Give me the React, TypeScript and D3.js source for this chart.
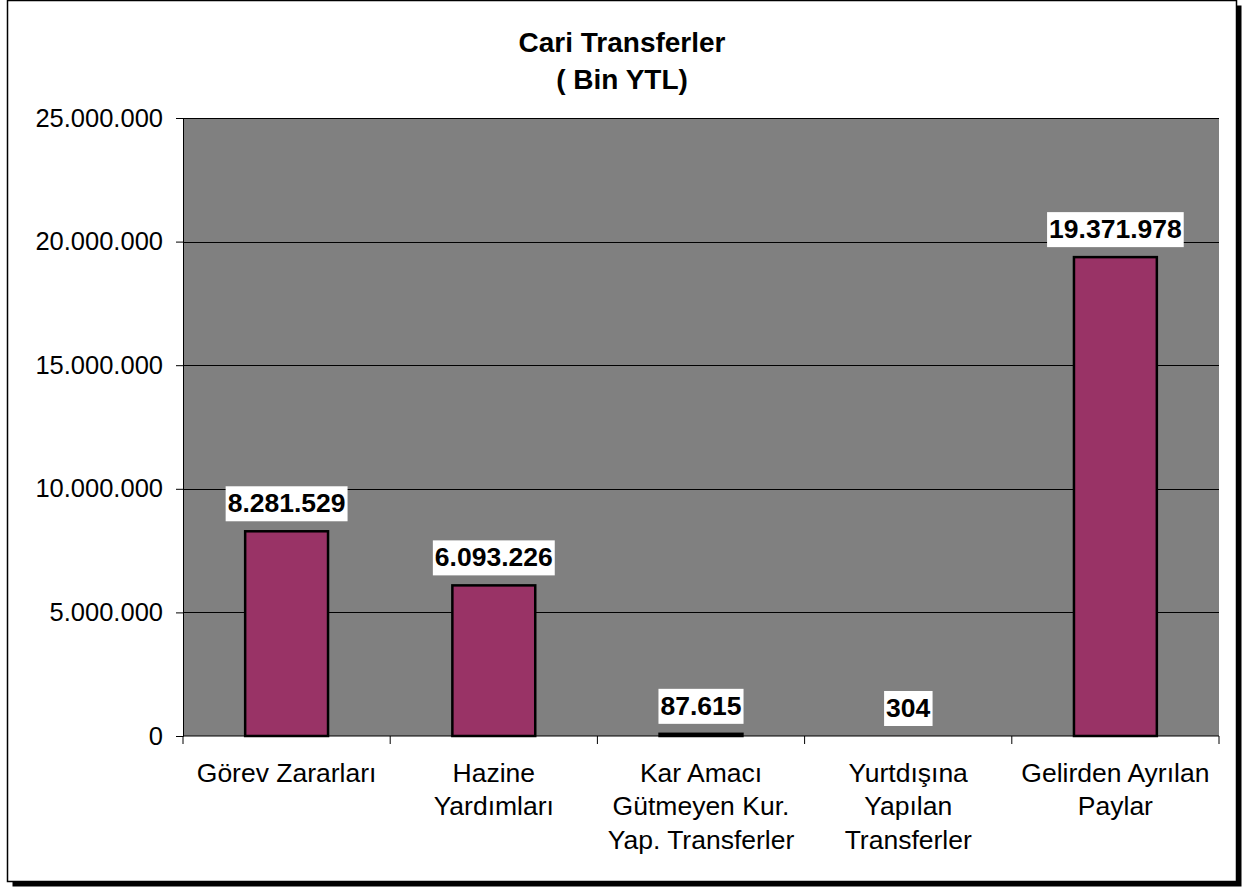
import React, { useEffect, useRef } from 'react';
import * as d3 from 'd3';

// chart data (Bin YTL)
const categories = [
  ['Görev Zararları'],
  ['Hazine', 'Yardımları'],
  ['Kar Amacı', 'Gütmeyen Kur.', 'Yap. Transferler'],
  ['Yurtdışına', 'Yapılan', 'Transferler'],
  ['Gelirden Ayrılan', 'Paylar'],
];
const values = [8281529, 6093226, 87615, 304, 19371978];
const yTicks = [0, 5000000, 10000000, 15000000, 20000000, 25000000];
const titleLines = ['Cari Transferler', '( Bin YTL)'];

const fmt = (v: number) => d3.format(',')(v).replace(/,/g, '.');

const App = () => {
  const ref = useRef<SVGSVGElement>(null);

  useEffect(() => {
    const svg = d3.select(ref.current);
    svg.selectAll('*').remove();

    const width = 1242;
    const height = 887;
    const margin = { top: 118, right: 23, bottom: 151, left: 183 };
    const font = '"Liberation Sans", Arial, sans-serif';

    // frame with shadow
    svg.append('rect')
      .attr('x', 12.5).attr('y', 5.5)
      .attr('width', 1229).attr('height', 881)
      .attr('fill', '#000');
    svg.append('rect')
      .attr('x', 7.5).attr('y', 0.5)
      .attr('width', 1229).attr('height', 881)
      .attr('fill', '#fff')
      .attr('stroke', '#000')
      .attr('stroke-width', 1.5);

    const x = d3.scaleBand()
      .domain(categories.map((_, i) => String(i)))
      .range([margin.left, width - margin.right])
      .paddingInner(0)
      .paddingOuter(0);

    const y = d3.scaleLinear()
      .domain([0, 25000000])
      .range([height - margin.bottom, margin.top]);

    // plot area
    svg.append('rect')
      .attr('x', margin.left)
      .attr('y', margin.top)
      .attr('width', width - margin.right - margin.left)
      .attr('height', y(0) - margin.top)
      .attr('fill', '#808080');

    // gridlines
    svg.append('g')
      .selectAll('line')
      .data(yTicks.slice(1))
      .enter().append('line')
      .attr('x1', margin.left)
      .attr('x2', width - margin.right)
      .attr('y1', d => Math.round(y(d)) + 0.5)
      .attr('y2', d => Math.round(y(d)) + 0.5)
      .attr('stroke', '#000')
      .attr('stroke-width', 1);

    // y axis
    const yAxis = svg.append('g')
      .attr('transform', `translate(${margin.left},0)`)
      .call(d3.axisLeft(y).tickValues(yTicks).tickFormat(d => fmt(+d)).tickSize(7).tickPadding(13));
    yAxis.select('.domain').attr('stroke', '#000');
    yAxis.selectAll('text')
      .attr('font-family', font)
      .attr('font-size', 25.5)
      .attr('fill', '#000');

    // x axis
    const baseY = y(0);
    const xAxis = svg.append('g');
    xAxis.append('line')
      .attr('x1', margin.left).attr('x2', width - margin.right)
      .attr('y1', baseY).attr('y2', baseY)
      .attr('stroke', '#000');
    const bounds = categories.map((_, i) => x(String(i)) as number).concat([width - margin.right]);
    xAxis.selectAll('line.tick')
      .data(bounds)
      .enter().append('line')
      .attr('class', 'tick')
      .attr('x1', d => d).attr('x2', d => d)
      .attr('y1', baseY).attr('y2', baseY + 8)
      .attr('stroke', '#000');

    const catText = xAxis.selectAll('text')
      .data(categories)
      .enter().append('text')
      .attr('font-family', font)
      .attr('font-size', 26.5)
      .attr('text-anchor', 'middle')
      .attr('fill', '#000');
    catText.selectAll('tspan')
      .data((d, i) => d.map(line => ({ line, i })))
      .enter().append('tspan')
      .attr('x', d => (x(String(d.i)) as number) + x.bandwidth() / 2)
      .attr('y', (_, j) => 782 + j * 33.3)
      .text(d => d.line);

    // bars
    const barW = x.bandwidth() / 2.5;
    svg.append('g')
      .selectAll('rect')
      .data(values)
      .enter().append('rect')
      .attr('x', (_, i) => (x(String(i)) as number) + (x.bandwidth() - barW) / 2)
      .attr('y', d => y(d))
      .attr('width', barW)
      .attr('height', d => baseY - y(d))
      .attr('fill', '#993366')
      .attr('stroke', d => (baseY - y(d) < 1 ? 'none' : '#000'))
      .attr('stroke-width', 2.5);

    // data labels with white boxes
    const labels = svg.append('g')
      .selectAll('g')
      .data(values)
      .enter().append('g')
      .attr('transform', (d, i) => `translate(${(x(String(i)) as number) + x.bandwidth() / 2},${y(d) - 10})`);
    labels.append('rect').attr('fill', '#fff');
    labels.append('text')
      .attr('font-family', font)
      .attr('font-size', 26.5)
      .attr('font-weight', 'bold')
      .attr('text-anchor', 'middle')
      .attr('y', -9)
      .attr('fill', '#000')
      .text(d => fmt(d));
    labels.each(function () {
      const g = d3.select(this);
      const bb = (g.select('text').node() as SVGTextElement).getBBox();
      g.select('rect')
        .attr('x', bb.x - 2)
        .attr('y', -35)
        .attr('width', bb.width + 4)
        .attr('height', 35);
    });

    // title
    svg.append('text')
      .attr('font-family', font)
      .attr('font-size', 28)
      .attr('font-weight', 'bold')
      .attr('text-anchor', 'middle')
      .selectAll('tspan')
      .data(titleLines)
      .enter().append('tspan')
      .attr('x', 622)
      .attr('y', (_, i) => 52 + i * 36.5)
      .text(d => d);
  }, []);

  return (
    <svg ref={ref} width="1242" height="887" style={{ position: 'absolute', left: 0, top: 0 }}></svg>
  );
};

export default App;
